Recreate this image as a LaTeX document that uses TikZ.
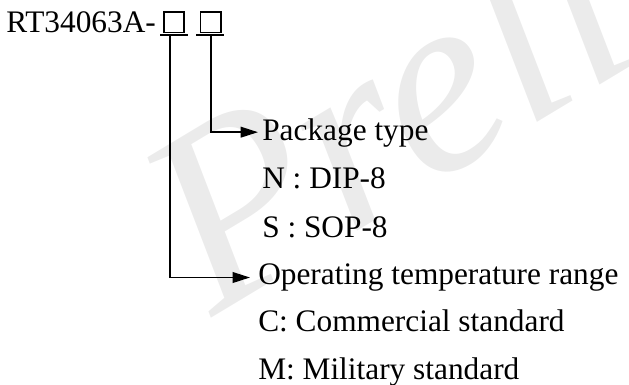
\documentclass[tikz,border=0pt]{standalone}
\usepackage{fontspec}
\setmainfont{Liberation Serif}
\usetikzlibrary{arrows.meta,positioning}
\tikzset{txt/.style={anchor=base west,inner sep=0pt,font=\fontsize{23.5}{28}\selectfont},
  digit/.style={draw,line width=1.3pt,minimum size=15.2pt,inner sep=0pt},
  lead/.style={line width=1.2pt},
  wmark/.style={text=black!8,font=\fontsize{195}{195}\selectfont\itshape,anchor=base west,inner sep=0pt}}

\begin{document}
\begin{tikzpicture}[x=0.75pt,y=-0.75pt,>={Triangle[length=13pt,width=8pt]}]
    \useasboundingbox (0,0) rectangle (629,385);
    % watermark
    \begin{scope}
    \clip (0,0) rectangle (629,385);
    \node[wmark,rotate=31] (wm) at (212,318) {Preliminary};
    \end{scope}

    \node[txt] (part) at (6,33) {RT34063A-};
    \node[digit] (b1) at (174,22.5) {};
    \node[digit] (b2) at (210.5,22.5) {};
    \coordinate (u1) at (170,35);
    \coordinate (u2) at (211,35);
    \draw [lead] (160,35) -- (u1) -- (188,35);
    \draw [lead] (196,35) -- (u2) -- (224,35);

    \node[txt] (pkg) at (262,141) {Package type};
    \node[txt] (dip) at (262,188) {N : DIP-8};
    \node[txt] (sop) at (262,237) {S : SOP-8};
    \node[txt] (temp) at (258,284.5) {Operating temperature range};
    \node[txt] (com) at (258,331.5) {C: Commercial standard};
    \node[txt] (mil) at (258,379) {M: Military standard};

    \draw [lead,->] (u2) |- ([xshift=-3pt,yshift=1pt]pkg.west);
    \draw [lead,->] (u1) |- ([xshift=-6pt,yshift=0pt]temp.west);
\end{tikzpicture}
\end{document}
